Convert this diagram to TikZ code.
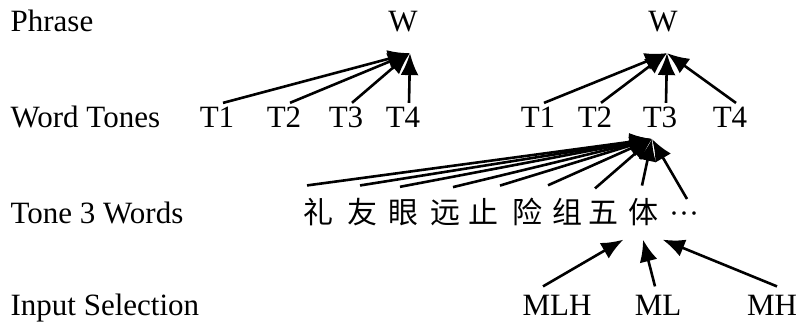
\documentclass[tikz,border=0pt]{standalone}
\usepackage{fontspec}
\setmainfont{Liberation Serif}
\newfontfamily\cjk{Noto Sans CJK SC}
\usetikzlibrary{arrows.meta}

\begin{document}
\begin{tikzpicture}[x=1pt, y=1pt, line width=2.6pt, >={Latex[length=22pt,width=18pt]},
		every node/.style={font=\fontsize{31}{37}\selectfont, anchor=base},
		zi/.style={font=\cjk\fontsize{30}{36}\selectfont, inner ysep=12pt},
		sel/.style={inner ysep=8pt}]
				\useasboundingbox (0,0) rectangle (800,328);
				
				% 1. 左侧层级标签
				\node[anchor=base west] (phrase) at (6,296) {Phrase};
				\node[anchor=base west] (tones) at (6,200) {Word Tones};
				\node[anchor=base west] (words) at (6,104) {Tone 3 Words};
				\node[anchor=base west] (input) at (6,12) {Input Selection};
				
				% 2. 短语层与词调层
				\node (Wl) at (403,296) {W};
				\node (Wr) at (663,296) {W};
				\foreach \n/\x in {1/217, 2/284, 3/346, 4/403}
					\node (Tl\n) at (\x,200) {T\n};
				\foreach \n/\x in {1/538, 2/595, 3/660, 4/730}
					\node (Tr\n) at (\x,200) {T\n};
				
				% 3. 三声字与输入选择
				\foreach \n/\x/\z in {1/318/礼, 2/362/友, 3/403/眼, 4/445/远, 5/483/止, 6/527/险, 7/567/组, 8/603/五, 9/643/体}
					\node[zi] (z\n) at (\x,104) {\z};
				\node[zi] (z10) at (684,104) {\rmfamily ···};
				\node[sel] (mlh) at (557,12) {MLH};
				\node[sel] (ml) at (658,12) {ML};
				\node[sel] (mh) at (772,12) {MH};
				
				% 4. 连线
				\foreach \n in {1,...,4}
					\draw[->] ([xshift=6pt]Tl\n.north) -- ([xshift=7pt,yshift=-16pt]Wl.south);
				\foreach \n in {1,...,4}
					\draw[->] ([xshift=6pt]Tr\n.north) -- ([xshift=4pt,yshift=-16pt]Wr.south);
				\foreach \n/\dx in {1/-11, 2/-2, 3/-3, 4/8, 5/17, 6/21, 8/-8, 9/-1, 10/3}
					\draw[->] ([xshift=\dx pt]z\n.north) -- ([xshift=-8pt,yshift=-6pt]Tr3.south);
				\draw[->] ([xshift=-14pt]mlh.north) -- (z9.south west);
				\draw[->] ([xshift=-3pt]ml.north) -- (z9.south);
				\draw[->] ([xshift=5pt]mh.north) -- (z9.south east);
			\end{tikzpicture}
\end{document}
